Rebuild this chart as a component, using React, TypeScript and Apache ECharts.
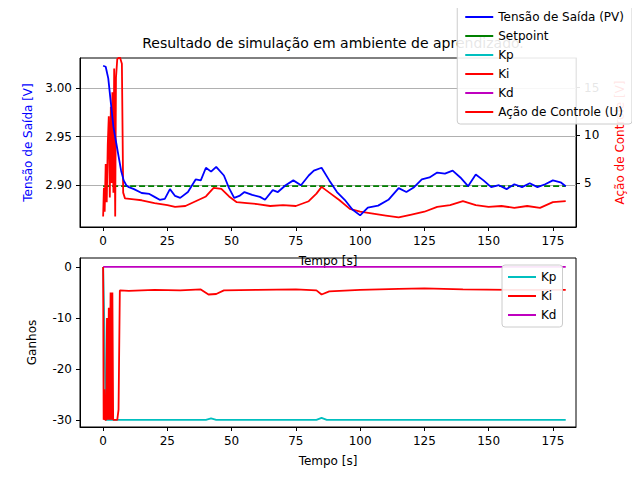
import React, { useEffect, useRef } from 'react';
import * as echarts from 'echarts';

// [time s, value] pairs
const pvData: [number, number][] = [
  [0, 3.023], [1, 3.022], [2, 3.01], [3, 2.985], [4, 2.96], [5, 2.945], [6, 2.93], [7, 2.915], [8, 2.905], [9, 2.9],
  [10, 2.898], [12, 2.896], [15, 2.892], [18, 2.891], [20, 2.888], [22, 2.885], [24, 2.886], [26, 2.896], [28, 2.889],
  [30, 2.887], [33, 2.893], [36, 2.906], [38, 2.905], [40, 2.918], [42, 2.914], [44, 2.919], [47, 2.91], [49, 2.897],
  [51, 2.887], [53, 2.889], [55, 2.893], [58, 2.89], [61, 2.888], [63, 2.885], [66, 2.895], [68, 2.893], [71, 2.9],
  [74, 2.905], [77, 2.9], [80, 2.91], [82, 2.915], [85, 2.918], [88, 2.905], [91, 2.893], [94, 2.885], [97, 2.875],
  [100, 2.869], [103, 2.877], [107, 2.879], [111, 2.885], [115, 2.897], [118, 2.893], [121, 2.898], [124, 2.906],
  [127, 2.908], [130, 2.913], [133, 2.912], [136, 2.915], [139, 2.908], [142, 2.899], [145, 2.911], [148, 2.905],
  [151, 2.898], [154, 2.9], [157, 2.896], [160, 2.901], [163, 2.898], [166, 2.902], [169, 2.898], [172, 2.901],
  [175, 2.905], [178, 2.903], [180, 2.899],
];
const setpointData: [number, number][] = [[0, 2.899], [180, 2.899]];
const uData: [number, number][] = [
  [0, 1.5], [0.3, 4.5], [0.6, 2.0], [1, 7], [1.4, 3], [1.8, 9], [2.2, 12], [2.6, 3.5], [3, 13], [3.3, 5],
  [3.6, 14.5], [4, 4], [4.3, 17], [4.7, 1.5], [5, 16], [5.5, 18], [6.5, 18.2], [7.3, 17.5], [7.8, 4], [8.5, 3.4],
  [12, 3.3], [15, 3.2], [20, 2.9], [25, 2.7], [28, 2.5], [32, 2.6], [36, 3.1], [40, 3.6], [43, 4.5], [46, 4.4],
  [49, 3.6], [52, 3.0], [56, 2.9], [60, 2.8], [65, 2.6], [70, 2.7], [75, 2.6], [80, 3.1], [83, 3.9], [85, 4.6],
  [88, 4.0], [92, 3.2], [96, 2.3], [100, 2.0], [105, 1.8], [110, 1.6], [115, 1.4], [120, 1.7], [125, 2.0],
  [130, 2.5], [135, 2.7], [140, 3.1], [145, 2.7], [150, 2.5], [155, 2.6], [160, 2.4], [165, 2.6], [170, 2.4],
  [175, 3.0], [180, 3.1],
];
const kpData: [number, number][] = [
  [0, 0], [0.5, -12], [1, -30], [40, -30], [42, -29.7], [44, -30], [83, -30], [85, -29.6], [87, -30], [180, -30],
];
const kiData: [number, number][] = [
  [0, 0], [0.2, -30], [0.5, -24], [0.8, -30], [1.2, -30], [1.5, -10], [1.8, -30], [2.2, -8], [2.5, -30], [2.9, -5],
  [3.2, -30], [3.6, -5], [3.9, -30], [5.5, -30], [6, -28], [6.5, -4.6], [10, -4.7], [20, -4.5], [30, -4.6],
  [38, -4.4], [41, -5.4], [44, -5.3], [47, -4.6], [60, -4.5], [75, -4.4], [83, -4.6], [85, -5.4], [88, -4.8],
  [100, -4.5], [115, -4.3], [125, -4.2], [140, -4.4], [160, -4.5], [180, -4.5],
];
const kdData: [number, number][] = [[0, 0], [180, 0]];

const xTicks = [0, 25, 50, 75, 100, 125, 150, 175];

export default function App() {
  const ref = useRef<HTMLDivElement>(null);

  useEffect(() => {
    if (!ref.current) return;
    const chart = echarts.init(ref.current, undefined, { renderer: 'svg' });
    const font = 'DejaVu Sans';
    const axisBase = {
      axisLine: { show: true, onZero: false, lineStyle: { color: '#000' } },
      axisTick: { show: true, length: 4, inside: false, lineStyle: { color: '#000' } },
      axisLabel: { color: '#000', fontSize: 12, fontFamily: font },
      splitLine: { show: false },
    };
    const xAxisFor = (gi: number) => ({
      ...axisBase,
      type: 'value',
      gridIndex: gi,
      min: -9,
      max: 184,
      axisLabel: { ...axisBase.axisLabel, customValues: xTicks },
      axisTick: { ...axisBase.axisTick, customValues: xTicks },
      name: 'Tempo [s]',
      nameLocation: 'middle',
      nameGap: 28,
      nameTextStyle: { color: '#000', fontSize: 12, fontFamily: font },
    });
    const line = (name: string, data: any, color: string, xi: number, yi: number, extra: any = {}) => ({
      type: 'line',
      name,
      data,
      xAxisIndex: xi,
      yAxisIndex: yi,
      showSymbol: false,
      symbol: 'none',
      lineStyle: { color, width: 1.8, ...(extra.lineStyle || {}) },
      itemStyle: { color },
      z: extra.z || 2,
    });
    const legendBase = {
      orient: 'vertical', itemWidth: 28, itemHeight: 2, icon: 'rect',
      backgroundColor: 'rgba(255,255,255,0.9)', borderColor: '#ccc', borderWidth: 1, borderRadius: 3,
      textStyle: { fontSize: 12, fontFamily: font, color: '#000' },
    };
    chart.setOption({
      animation: false,
      backgroundColor: '#fff',
      title: {
        text: 'Resultado de simulação em ambiente de aprendizado.',
        left: 328,
        top: 31,
        textAlign: 'center',
        textStyle: { fontSize: 14, fontWeight: 'normal', color: '#000', fontFamily: font },
      },
      grid: [
        { left: 80, width: 496, top: 58, height: 169, show: true, borderColor: '#000', borderWidth: 1, backgroundColor: 'transparent' },
        { left: 80, width: 496, top: 258, height: 169, show: true, borderColor: '#000', borderWidth: 1, backgroundColor: 'transparent' },
      ],
      xAxis: [xAxisFor(0), xAxisFor(1)],
      yAxis: [
        {
          ...axisBase, type: 'value', gridIndex: 0, min: 2.857, max: 3.031,
          axisLabel: { ...axisBase.axisLabel, customValues: [2.9, 2.95, 3.0], formatter: (v: number) => v.toFixed(2) },
          axisTick: { ...axisBase.axisTick, customValues: [2.9, 2.95, 3.0] },
          splitLine: { show: true, lineStyle: { color: '#b0b0b0', width: 1 } },
          name: 'Tensão de Saída [V]', nameLocation: 'middle', nameGap: 46,
          nameTextStyle: { color: 'blue', fontSize: 12, fontFamily: font },
        },
        {
          ...axisBase, type: 'value', gridIndex: 0, position: 'right', min: 0.4, max: 18.1,
          axisLabel: { ...axisBase.axisLabel, customValues: [5, 10, 15] },
          axisTick: { ...axisBase.axisTick, customValues: [5, 10, 15] },
          name: 'Ação de Controle [V]', nameLocation: 'middle', nameGap: 38, nameRotate: 90,
          nameTextStyle: { color: 'red', fontSize: 12, fontFamily: font },
        },
        {
          ...axisBase, type: 'value', gridIndex: 1, min: -31.4, max: 1.76,
          axisLabel: { ...axisBase.axisLabel, customValues: [-30, -20, -10, 0] },
          axisTick: { ...axisBase.axisTick, customValues: [-30, -20, -10, 0] },
          name: 'Ganhos', nameLocation: 'middle', nameGap: 42,
          nameTextStyle: { color: '#000', fontSize: 12, fontFamily: font },
        },
      ],
      legend: [
        {
          ...legendBase, right: 8, top: 5, padding: [6, 8], itemGap: 7,
          data: ['Tensão de Saída (PV)', 'Setpoint', 'Kp', 'Ki', 'Kd', 'Ação de Controle (U)'],
          z: 10,
        },
        {
          ...legendBase, left: 502, top: 265, padding: [6, 6], itemGap: 7,
          data: ['Kp', 'Ki', 'Kd'],
        },
      ],
      series: [
        line('Tensão de Saída (PV)', pvData, 'blue', 0, 0, { z: 3 }),
        line('Setpoint', setpointData, 'green', 0, 0, { lineStyle: { type: [6, 3] } }),
        line('Ação de Controle (U)', uData, 'red', 0, 1),
        line('Kp', kpData, '#00bfbf', 1, 2),
        line('Ki', kiData, 'red', 1, 2, { z: 3 }),
        line('Kd', kdData, '#bf00bf', 1, 2),
      ],
    });
    return () => chart.dispose();
  }, []);

  return <div ref={ref} style={{ width: 640, height: 480, margin: -8 }} />;
}
